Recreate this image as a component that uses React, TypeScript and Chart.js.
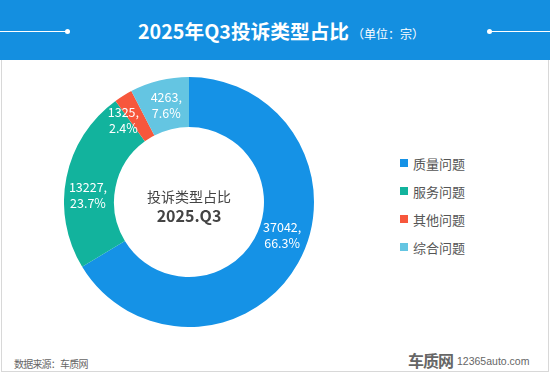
import React, { useEffect, useRef } from "react";
import { Chart, registerables } from "chart.js";

Chart.register(...registerables);

const categories = ["质量问题", "服务问题", "其他问题", "综合问题"];
const counts = [37042, 13227, 1325, 4263];
const percents = ["66.3%", "23.7%", "2.4%", "7.6%"];
const colors = ["#1592e6", "#12b39d", "#f7573c", "#64c5e2"];
// small nudges of the slice labels away from the arc midpoint (label layout)
const labelNudge = [
  [6, -16],
  [-3, 13],
  [-13, 3],
  [1, 0],
];

const FONT = '"Noto Sans CJK SC", "Noto Sans", sans-serif';

const labelPlugin = {
  id: "sliceLabels",
  afterDatasetsDraw(chart: any) {
    const ctx = chart.ctx;
    const meta = chart.getDatasetMeta(0);
    ctx.save();
    ctx.fillStyle = "#ffffff";
    ctx.font = `12.5px ${FONT}`;
    ctx.textAlign = "center";
    ctx.textBaseline = "middle";
    meta.data.forEach((arc: any, i: number) => {
      const p = arc.tooltipPosition();
      const x = p.x + labelNudge[i][0];
      const y = p.y + labelNudge[i][1];
      ctx.fillText(counts[i] + ",", x, y - 8);
      ctx.fillText(percents[i], x, y + 8);
    });
    const cx = (chart.chartArea.left + chart.chartArea.right) / 2;
    const cy = (chart.chartArea.top + chart.chartArea.bottom) / 2;
    ctx.fillStyle = "#444444";
    ctx.font = `14px ${FONT}`;
    ctx.fillText("投诉类型占比", cx, cy - 5);
    ctx.font = `bold 16px ${FONT}`;
    ctx.fillText("2025.Q3", cx, cy + 14);
    ctx.restore();
  },
};

export default function App() {
  const ref = useRef<HTMLCanvasElement>(null);
  useEffect(() => {
    if (!ref.current) return;
    const chart = new Chart(ref.current, {
      type: "doughnut",
      data: {
        labels: categories,
        datasets: [
          {
            data: counts,
            backgroundColor: colors,
            borderWidth: 0,
          },
        ],
      },
      options: {
        responsive: false,
        animation: false,
        cutout: "60%",
        layout: { padding: 0 },
        plugins: {
          legend: { display: false },
          tooltip: { enabled: false },
        },
      },
      plugins: [labelPlugin],
    });
    return () => chart.destroy();
  }, []);

  return (
    <div
      style={{
        position: "fixed",
        left: 0,
        top: 0,
        width: 550,
        height: 380,
        background: "#ffffff",
        fontFamily: FONT,
        overflow: "hidden",
      }}
    >
      <div
        style={{
          position: "absolute",
          left: 0,
          top: 0,
          width: 550,
          height: 60,
          background: "#148fe0",
        }}
      >
        <div style={{ position: "absolute", left: 0, top: 31, width: 67, height: 1, background: "#ffffff" }} />
        <div style={{ position: "absolute", left: 65, top: 29, width: 5, height: 5, borderRadius: 3, background: "#ffffff" }} />
        <div style={{ position: "absolute", left: 490, top: 31, width: 60, height: 1, background: "#ffffff" }} />
        <div style={{ position: "absolute", left: 487, top: 29, width: 5, height: 5, borderRadius: 3, background: "#ffffff" }} />
        <div
          style={{
            position: "absolute",
            left: 138,
            top: 17,
            height: 28,
            lineHeight: "28px",
            color: "#ffffff",
            whiteSpace: "nowrap",
          }}
        >
          <span style={{ fontSize: 19.7, fontWeight: "bold" }}>2025年Q3投诉类型占比</span>
          <span style={{ fontSize: 12, marginLeft: 3 }}>（单位：宗）</span>
        </div>
      </div>
      <div
        style={{
          position: "absolute",
          left: 1,
          top: 60,
          width: 546,
          height: 311,
          borderLeft: "1px solid #d8d8d8",
          borderRight: "1px solid #d8d8d8",
          borderBottom: "1px solid #d8d8d8",
        }}
      />
      <canvas
        ref={ref}
        width={250}
        height={250}
        style={{ position: "absolute", left: 64, top: 77, width: 250, height: 250 }}
      />
      <div style={{ position: "absolute", left: 400, top: 149 }}>
        {categories.map((c, i) => (
          <div
            key={c}
            style={{ display: "flex", alignItems: "center", height: 28, whiteSpace: "nowrap" }}
          >
            <div style={{ width: 8, height: 8, background: colors[i], marginRight: 5 }} />
            <span style={{ fontSize: 13, color: "#555555" }}>{c}</span>
          </div>
        ))}
      </div>
      <div
        style={{
          position: "absolute",
          left: 14,
          top: 356,
          fontSize: 10,
          letterSpacing: -0.8,
          color: "#666666",
          whiteSpace: "nowrap",
        }}
      >
        数据来源：车质网
      </div>
      <div
        style={{
          position: "absolute",
          left: 408,
          top: 350,
          whiteSpace: "nowrap",
          color: "#666666",
          display: "flex",
          alignItems: "flex-end",
        }}
      >
        <span style={{ fontSize: 16, fontWeight: "bold", letterSpacing: -1, lineHeight: "20px" }}>车质网</span>
        <span
          style={{
            fontSize: 10.5,
            marginLeft: 4,
            lineHeight: "18px",
            fontFamily: '"Liberation Sans", Arial, sans-serif',
          }}
        >
          12365auto.com
        </span>
      </div>
    </div>
  );
}
